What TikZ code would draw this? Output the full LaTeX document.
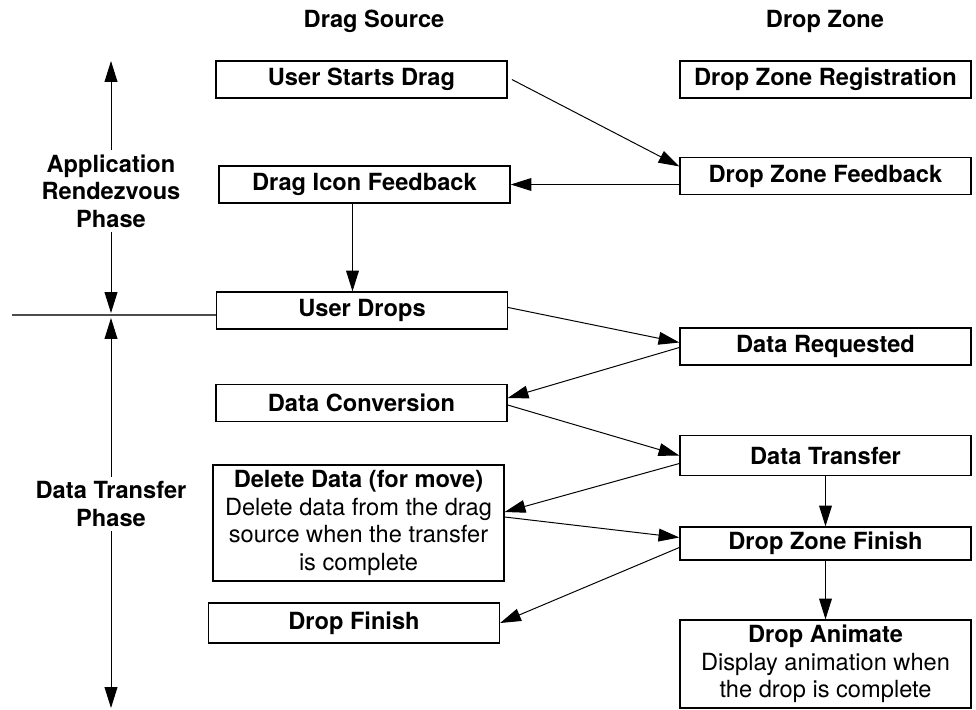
\documentclass[tikz,border=0pt]{standalone}
\usepackage{fontspec}
\setmainfont{TeX Gyre Heros}
\usetikzlibrary{arrows.meta,calc,positioning}

\newcommand\labelfont{\fontsize{16.8}{19.5}\selectfont}

\begin{document}
\begin{tikzpicture}[x=0.025cm,y=-0.025cm,
    stage/.style={draw,line width=0.9pt,minimum width=7.275cm,minimum height=0.925cm,
        inner sep=2pt,align=center,font=\labelfont\bfseries},
    note/.style={stage,font=\labelfont},
    phase/.style={align=center,font=\labelfont\bfseries},
    link/.style={line width=0.7pt,-{Triangle[length=0.52cm,width=0.32cm]}}]
                \useasboundingbox (0,0) rectangle (976,710);
                \node[phase] (15) at (374,21) {Drag Source};
                \node[phase] (16) at (825,21) {Drop Zone};
                \node[stage] (1) at (361.5,79.5) {User Starts Drag};
                \node[stage] (2) at (825.5,79.5) {Drop Zone Registration};
                \node[stage] (3) at (825.5,176) {Drop Zone Feedback};
                \node[stage] (4) at (364.5,184.5) {Drag Icon Feedback};
                \node[stage] (5) at (362,310.5) {User Drops};
                \node[stage] (6) at (825.5,346.5) {Data Requested};
                \node[stage] (7) at (361.5,403) {Data Conversion};
                \node[stage, minimum height=1cm] (8) at (825.5,455.5) {Data Transfer};
                \node[note, minimum height=2.9cm] (9) at (358.5,523)
                    {\textbf{Delete Data (for move)}\\Delete data from the drag\\source when the transfer\\is complete};
                \node[stage, minimum height=0.825cm] (10) at (825.5,543.5) {Drop Zone Finish};
                \node[stage, minimum height=1cm] (11) at (354,623) {Drop Finish};
                \node[note, minimum height=2.2cm] (12) at (825.5,664)
                    {\textbf{Drop Animate}\\Display animation when\\the drop is complete};
                \node[phase] (13) at (111,191) {Application\\Rendezvous\\Phase};
                \node[phase] (14) at (111,504) {Data Transfer\\Phase};
                \coordinate (c1) at (111,61);
                \coordinate (c2) at (111,313);
                \coordinate (c3) at (111,318);
                \coordinate (c4) at (111,708);
                \coordinate (c5) at (12,315);
                \draw[link] (13.north) -- (c1);
                \draw[link] (13.south) -- (c2);
                \draw[link] (14.north) -- (c3);
                \draw[link] (14.south) -- (c4);
                \draw[line width=1.2pt,black!70] (c5) -- (c5 -| 5.west);
                \draw[link] ([xshift=3pt]1.east) -- ($(3.north west)!0.25!(3.south west)$);
                \draw[link] (3.west |- 4.east) -- (4.east);
                \draw[link] ([xshift=-0.3cm]4.south) -- ([xshift=-0.3cm]4.south |- 5.north);
                \draw[link] ($(5.east)+(0,-3)$) -- ($(6.west)+(0,-4)$);
                \draw[link] ($(6.west)+(0,1)$) -- ($(7.east)+(0,-5)$);
                \draw[link] ($(7.east)+(0,2)$) -- (8.west);
                \draw[link] ($(8.west)+(0,8)$) -- ($(9.east)+(0,-11)$);
                \draw[link] ($(9.east)+(0,-6)$) -- ($(10.west)+(0,-6)$);
                \draw[link] ($(10.west)+(0,4)$) -- (11.east);
                \draw[link] (8.south) -- (10.north);
                \draw[link] (10.south) -- (12.north);
            \end{tikzpicture}
\end{document}
